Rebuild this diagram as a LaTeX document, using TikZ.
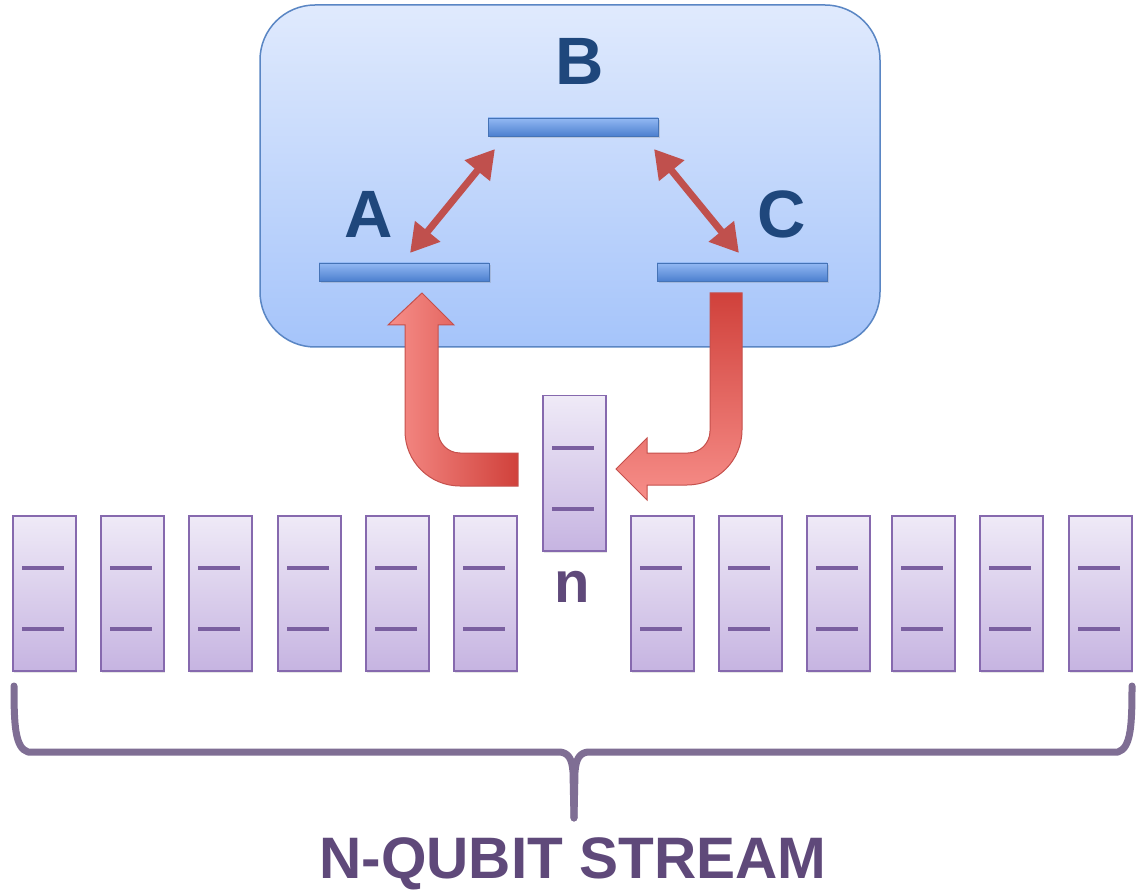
\documentclass[tikz,border=0pt]{standalone}
\usepackage{fontspec}
\setmainfont{Liberation Sans}
\usetikzlibrary{arrows.meta,shadows}
\definecolor{paneltop}{HTML}{E0EAFD}
\definecolor{panelbot}{HTML}{A5C4FA}
\definecolor{panelborder}{HTML}{5A86C4}
\definecolor{bartop}{HTML}{93B8F3}
\definecolor{barbot}{HTML}{4C80CF}
\definecolor{barborder}{HTML}{4573B6}
\definecolor{lblblue}{HTML}{1F477C}
\definecolor{arrowred}{HTML}{C0504D}
\definecolor{bentdark}{HTML}{D0413B}
\definecolor{bentlight}{HTML}{F78E89}
\definecolor{bentborder}{HTML}{C5504C}
\definecolor{qtop}{HTML}{EFEAF7}
\definecolor{qbot}{HTML}{C6B4E1}
\definecolor{qborder}{HTML}{8669AE}
\definecolor{qline}{HTML}{7A5FA0}
\definecolor{bracecol}{HTML}{7F6E94}
\definecolor{textpurple}{HTML}{5F497A}
\begin{document}
\begin{tikzpicture}[x=1pt,y=-1pt,
  panel/.style={draw=panelborder, line width=1.5pt, rounded corners=55pt, top color=paneltop, bottom color=panelbot, minimum width=620pt, minimum height=342pt, inner sep=0pt},
  level/.style={draw=barborder, line width=0.8pt, top color=bartop, bottom color=barbot, minimum width=170pt, minimum height=18pt, inner sep=0pt, drop shadow={opacity=0.25, shadow xshift=1.5pt, shadow yshift=-2pt}},
  lbl/.style={text=lblblue, font=\fontsize{67}{67}\selectfont\bfseries, inner sep=0pt, anchor=base},
  dbl/.style={draw=arrowred, line width=7pt, {Triangle[length=28pt,width=31pt]}-{Triangle[length=28pt,width=31pt]}},
  bent/.style={draw=bentborder, line width=1pt},
  qubit/.style={draw=qborder, line width=1.5pt, top color=qtop, bottom color=qbot, minimum width=63pt, minimum height=155pt, inner sep=0pt, drop shadow={opacity=0.2, shadow xshift=1.5pt, shadow yshift=-2pt}},
  qlev/.style={draw=qline, line width=4.5pt},
  brace/.style={draw=bracecol, line width=7pt, line join=round, line cap=round},
  purpletext/.style={text=textpurple, inner sep=0pt, anchor=base}
]
\useasboundingbox[fill=white] (0,0) rectangle (1144,893);

% panel with energy levels
\node[panel] (panel) at (570,176) {};
\node[level] (B) at (573,127) {};
\node[level] (A) at (404,272) {};
\node[level] (C) at (742,272) {};
\node[lbl] (lA) at (368.5,238) {A};
\node[lbl] (lB) at (580,85) {B};
\node[lbl] (lC) at (782,238) {C};

% transitions
\coordinate (ab1) at (410,253);
\coordinate (ab2) at (495,149);
\coordinate (bc1) at (654,149);
\coordinate (bc2) at (739,253);
\draw[dbl] (ab1) -- (ab2);
\draw[dbl] (bc1) -- (bc2);

% bent arrow into A (from the stream)
\path[bent, left color=bentlight, right color=bentdark]
  (518,453) -- (460,453) .. controls (447.9,453) and (438,443.1) .. (438,431)
  -- (438,325) -- (454,325) -- (422,293) -- (388,325) -- (405,325)
  -- (405,431) .. controls (405,461.4) and (429.6,486) .. (460,486)
  -- (518,486) -- cycle;

% bent arrow out of C (to the stream)
\path[bent, top color=bentdark, bottom color=bentlight]
  (710,293) -- (742,293) -- (742,430) .. controls (742,460.4) and (717.4,485) .. (687,485)
  -- (647,485) -- (647,500) -- (616,469) -- (647,438) -- (647,453)
  -- (688,453) .. controls (700.1,453) and (710,443.1) .. (710,431) -- cycle;

% qubit n
\node[qubit, anchor=north west] (qn) at (542,395) {};
\draw[qlev] ([xshift=10pt,yshift=-53pt]qn.north west) -- ++(42,0);
\draw[qlev] ([xshift=10pt,yshift=-114pt]qn.north west) -- ++(42,0);
\node[purpletext, font=\fontsize{58}{58}\selectfont\bfseries] (nlabel) at (572,602) {n};

% qubit stream
\foreach \x [count=\i] in {12,100,188,277,365,453,630,718,806,891,979,1068} {
  \node[qubit, anchor=north west] (q\i) at (\x,515) {};
  \draw[qlev] ([xshift=10pt,yshift=-53pt]q\i.north west) -- ++(42,0);
  \draw[qlev] ([xshift=10pt,yshift=-114pt]q\i.north west) -- ++(42,0);
}

% brace
\coordinate (tip) at (574,818);
\draw[brace] (14,686) .. controls (14,725) and (15,748) .. (28,752) -- (560,752)
  .. controls (568,753) and (572,758) .. (573,772) -- (tip);
\draw[brace] (1132,686) .. controls (1132,725) and (1131,748) .. (1118,752) -- (588,752)
  .. controls (580,753) and (576,758) .. (575,772) -- (tip);

\node[purpletext, font=\fontsize{58.5}{58.5}\selectfont\bfseries] (title) at (573,878) {N-QUBIT STREAM};
\end{tikzpicture}
\end{document}
